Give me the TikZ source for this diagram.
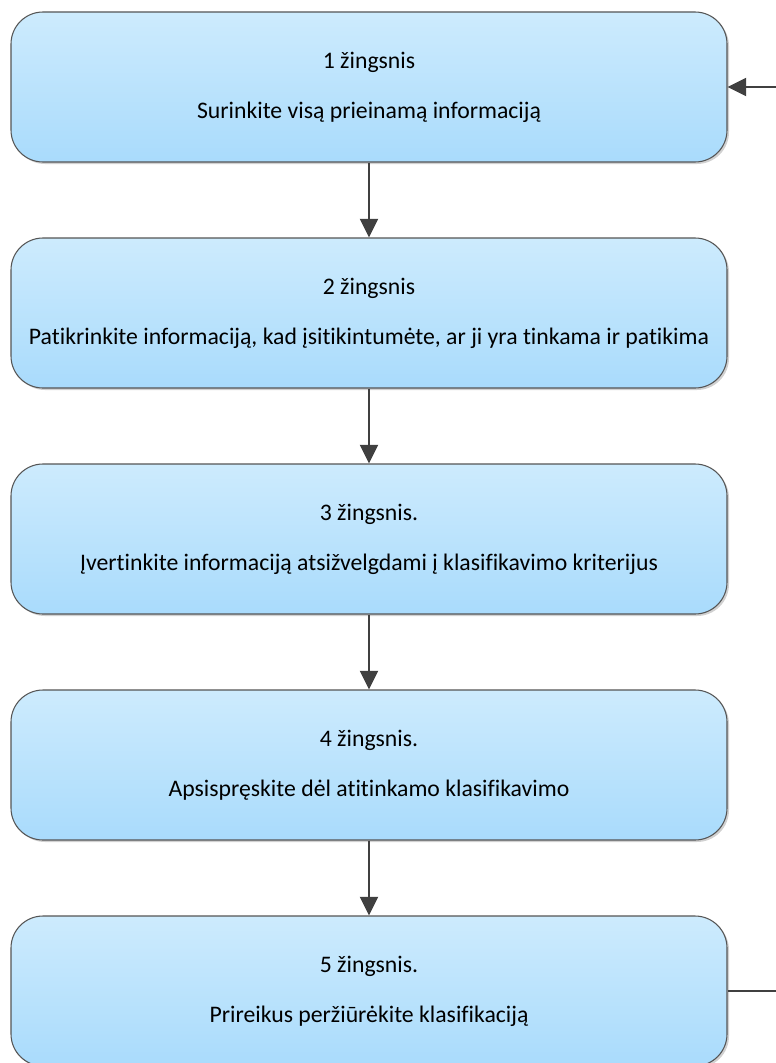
\documentclass[tikz,border=0pt]{standalone}
\usepackage{fontspec}
\setmainfont{Carlito}[Ligatures=CommonOff]
\usetikzlibrary{arrows.meta,shadows}

\definecolor{boxtop}{RGB}{205,235,253}
\definecolor{boxbottom}{RGB}{169,219,252}
\definecolor{boxline}{RGB}{85,85,85}
\definecolor{arrowgray}{RGB}{64,64,64}

\tikzset{
    stepbox/.style={rectangle, rounded corners=24pt, draw=boxline, line width=0.8pt,
        top color=boxtop, bottom color=boxbottom,
        drop shadow={shadow xshift=1.5pt, shadow yshift=-1.5pt, opacity=0.18, fill=black},
        minimum width=537pt, minimum height=112.5pt, align=center, inner sep=0pt,
        font=\fontsize{17.8}{37.5}\selectfont},
    flow/.style={draw=arrowgray, line width=1.5pt, -{Triangle[length=14pt, width=13.5pt]}}
}

\begin{document}
\begin{tikzpicture}[x=0.75pt, y=-0.75pt]
    \useasboundingbox (0,0) rectangle (775,1063);

    % Steps
    \node[stepbox] (s1) at (369,87) {1 žingsnis\\Surinkite visą prieinamą informaciją};
    \node[stepbox] (s2) at (369,313) {2 žingsnis\\Patikrinkite informaciją, kad įsitikintumėte, ar ji yra tinkama ir patikima};
    \node[stepbox] (s3) at (369,539) {3 žingsnis.\\Įvertinkite informaciją atsižvelgdami į klasifikavimo kriterijus};
    \node[stepbox] (s4) at (369,765) {4 žingsnis.\\Apsispręskite dėl atitinkamo klasifikavimo};
    \node[stepbox] (s5) at (369,991) {5 žingsnis.\\Prireikus peržiūrėkite klasifikaciją};

    % Arrows between the steps
    \draw[flow] (s1) -- (s2);
    \draw[flow] (s2) -- (s3);
    \draw[flow] (s3) -- (s4);
    \draw[flow] (s4) -- (s5);

    % Back from step 5 to step 1 (vertical part lies outside the page)
    \coordinate (loop) at (800,0);
    \draw[flow] (s5.east) -- (s5.east -| loop) -- (s1.east -| loop) -- (s1.east);
\end{tikzpicture}
\end{document}
